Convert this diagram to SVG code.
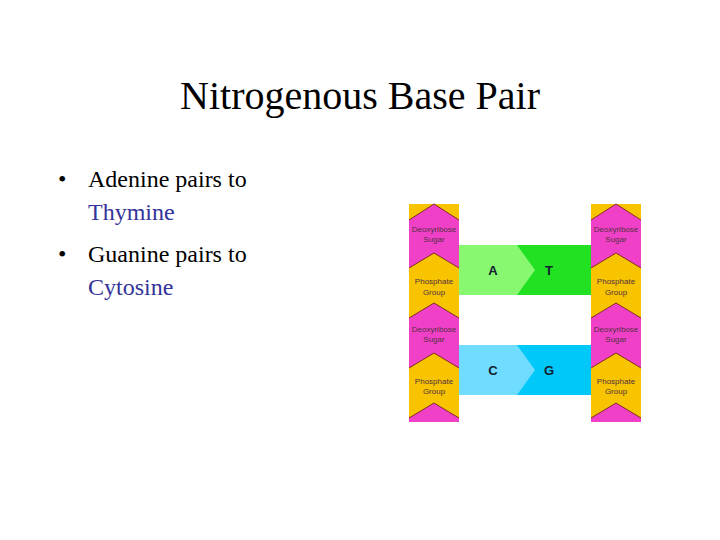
<svg xmlns="http://www.w3.org/2000/svg" width="720" height="540" viewBox="0 0 720 540">
<style>
.t{font-family:"Liberation Serif",serif;fill:#000}
.b{font-size:24px}
.blue{fill:#333399}
.y{fill:#f8c400}
.p{fill:#f040c8}
.e{fill:none;stroke:#803020;stroke-width:1}
.s{font-family:"Liberation Sans",sans-serif;font-size:8px;fill:#503040;text-anchor:middle}
.L{font-family:"Liberation Sans",sans-serif;font-size:13px;font-weight:bold;fill:#102030;text-anchor:middle}
</style>
<rect width="720" height="540" fill="#fff"/>
<text class="t" x="360" y="109" font-size="40" text-anchor="middle">Nitrogenous Base Pair</text>
<g id="bullets">
<text class="t b" x="58" y="187">•</text>
<text class="t b" x="88" y="187">Adenine pairs to</text>
<text class="t b blue" x="88" y="220">Thymine</text>
<text class="t b" x="58" y="262">•</text>
<text class="t b" x="88" y="262">Guanine pairs to</text>
<text class="t b blue" x="88" y="295">Cytosine</text>
</g>
<g id="pairs">
<rect x="459" y="245" width="132" height="50" fill="#22e022"/>
<polygon points="459,245 517,245 535,270 517,295 459,295" fill="#88f870"/>
<text class="L" x="493" y="275">A</text><text class="L" x="549" y="275">T</text>
<rect x="459" y="345" width="132" height="50" fill="#00c8f8"/>
<polygon points="459,345 517,345 535,370 517,395 459,395" fill="#70dcff"/>
<text class="L" x="493" y="375">C</text><text class="L" x="549" y="375">G</text>
</g>
<defs>
<g id="col">
<rect x="0" y="0" width="50" height="218" class="y"/>
<polygon points="0,16 25,0 50,16 50,64 25,49 0,64" class="p"/>
<polygon points="0,114 25,99 50,114 50,164 25,149 0,164" class="p"/>
<polygon points="0,214 25,199 50,214 50,218 0,218" class="p"/>
<polyline points="0,16 25,0 50,16" class="e"/>
<polyline points="0,64 25,49 50,64" class="e"/>
<polyline points="0,114 25,99 50,114" class="e"/>
<polyline points="0,164 25,149 50,164" class="e"/>
<polyline points="0,214 25,199 50,214" class="e"/>
<text class="s" x="25" y="28">Deoxyribose</text><text class="s" x="25" y="38">Sugar</text>
<text class="s" x="25" y="80">Phosphate</text><text class="s" x="25" y="91">Group</text>
<text class="s" x="25" y="128">Deoxyribose</text><text class="s" x="25" y="138">Sugar</text>
<text class="s" x="25" y="180">Phosphate</text><text class="s" x="25" y="190">Group</text>
</g>
</defs>
<g id="left"><use href="#col" x="409" y="204"/></g>
<g id="right"><use href="#col" x="591" y="204"/></g>
</svg>
